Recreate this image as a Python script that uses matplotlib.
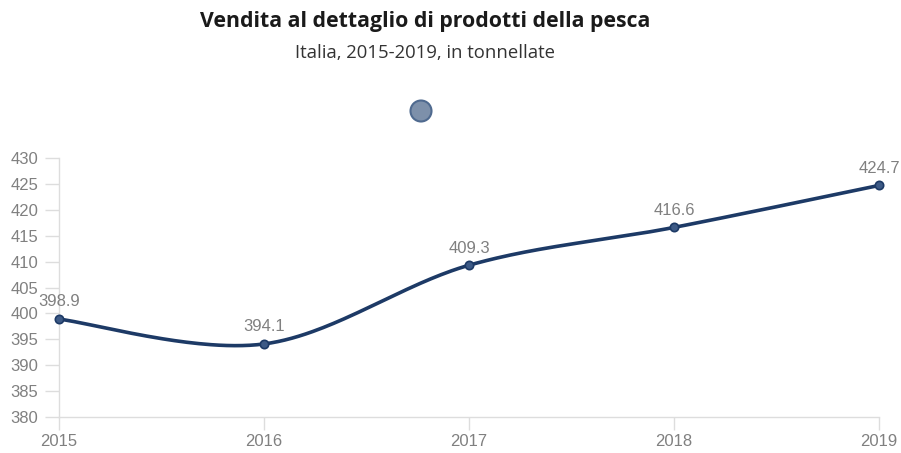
import matplotlib
matplotlib.use("Agg")
import matplotlib.pyplot as plt
import numpy as np
from matplotlib.patches import Circle

years = [2015, 2016, 2017, 2018, 2019]
tonnes = [398.9, 394.1, 409.3, 416.6, 424.7]
y_ticks = [380, 385, 390, 395, 400, 405, 410, 415, 420, 425, 430]

title = "Vendita al dettaglio di prodotti della pesca"
subtitle = "Italia, 2015-2019, in tonnellate"

LINE = "#1d3a66"
GRID = "#dddddd"
TXT = "#808080"


def catmull_rom(x, y, n=60):
    """Catmull-Rom spline through the points (end points duplicated)."""
    x = np.asarray(x, float)
    y = np.asarray(y, float)
    px = np.concatenate([[x[0]], x, [x[-1]]])
    py = np.concatenate([[y[0]], y, [y[-1]]])
    xs, ys = [], []
    t = np.linspace(0, 1, n)
    for i in range(1, len(px) - 2):
        p0, p1, p2, p3 = (np.array([px[k], py[k]]) for k in (i - 1, i, i + 1, i + 2))
        m1 = (p2 - p0) / 2
        m2 = (p3 - p1) / 2
        h00 = 2 * t**3 - 3 * t**2 + 1
        h10 = t**3 - 2 * t**2 + t
        h01 = -2 * t**3 + 3 * t**2
        h11 = t**3 - t**2
        pts = (np.outer(h00, p1) + np.outer(h10, m1) + np.outer(h01, p2) + np.outer(h11, m2))
        xs.append(pts[:, 0])
        ys.append(pts[:, 1])
    return np.concatenate(xs), np.concatenate(ys)


fig = plt.figure(figsize=(9.01, 4.53), dpi=100)
ax = fig.add_axes([59 / 901, 1 - 417 / 453, (879 - 59) / 901, (417 - 158) / 453])

sx, sy = catmull_rom(years, tonnes)
ax.plot(sx, sy, color=LINE, lw=2.6, solid_capstyle="round", clip_on=False, zorder=3)
ax.plot(years, tonnes, "o", ms=6, mfc="#3d5a86", mec="#1d3a66", mew=1.2,
        clip_on=False, zorder=4)
for x, v in zip(years, tonnes):
    ax.annotate(f"{v:.1f}", (x, v), xytext=(0, 7), textcoords="offset points",
                ha="center", va="bottom", color=TXT, fontsize=12,
                family="Liberation Sans")

ax.set_xlim(2015, 2019)
ax.set_ylim(380, 430)
ax.set_xticks(years)
ax.set_xticklabels([str(y) for y in years])
ax.set_yticks(y_ticks)

for s in ("top", "right"):
    ax.spines[s].set_visible(False)
for s in ("left", "bottom"):
    ax.spines[s].set_color(GRID)
    ax.spines[s].set_linewidth(1)
ax.tick_params(axis="y", length=10, width=1, color=GRID, pad=5,
               labelcolor=TXT, labelsize=12)
ax.tick_params(axis="x", length=9.5, width=1, color=GRID, pad=3,
               labelcolor=TXT, labelsize=12)
for lab in ax.get_xticklabels() + ax.get_yticklabels():
    lab.set_family("Liberation Sans")
ax.set_facecolor("none")

fig.text(425 / 901, 1 - 22 / 453, title, ha="center", va="center",
         fontsize=15.3, fontweight="bold", family="Open Sans", color="#1a1a1a")
fig.text(425 / 901, 1 - 53 / 453, subtitle, ha="center", va="center",
         fontsize=13.3, family="Open Sans", color="#333333")

# legend-style dot above the plot
fig.patches.append(Circle((4.21, (453 - 111) / 100), 0.105, transform=fig.dpi_scale_trans,
                          facecolor="#7d90aa", edgecolor="#4f6a8f", lw=1.5))

fig.savefig("out.png", dpi=100)
